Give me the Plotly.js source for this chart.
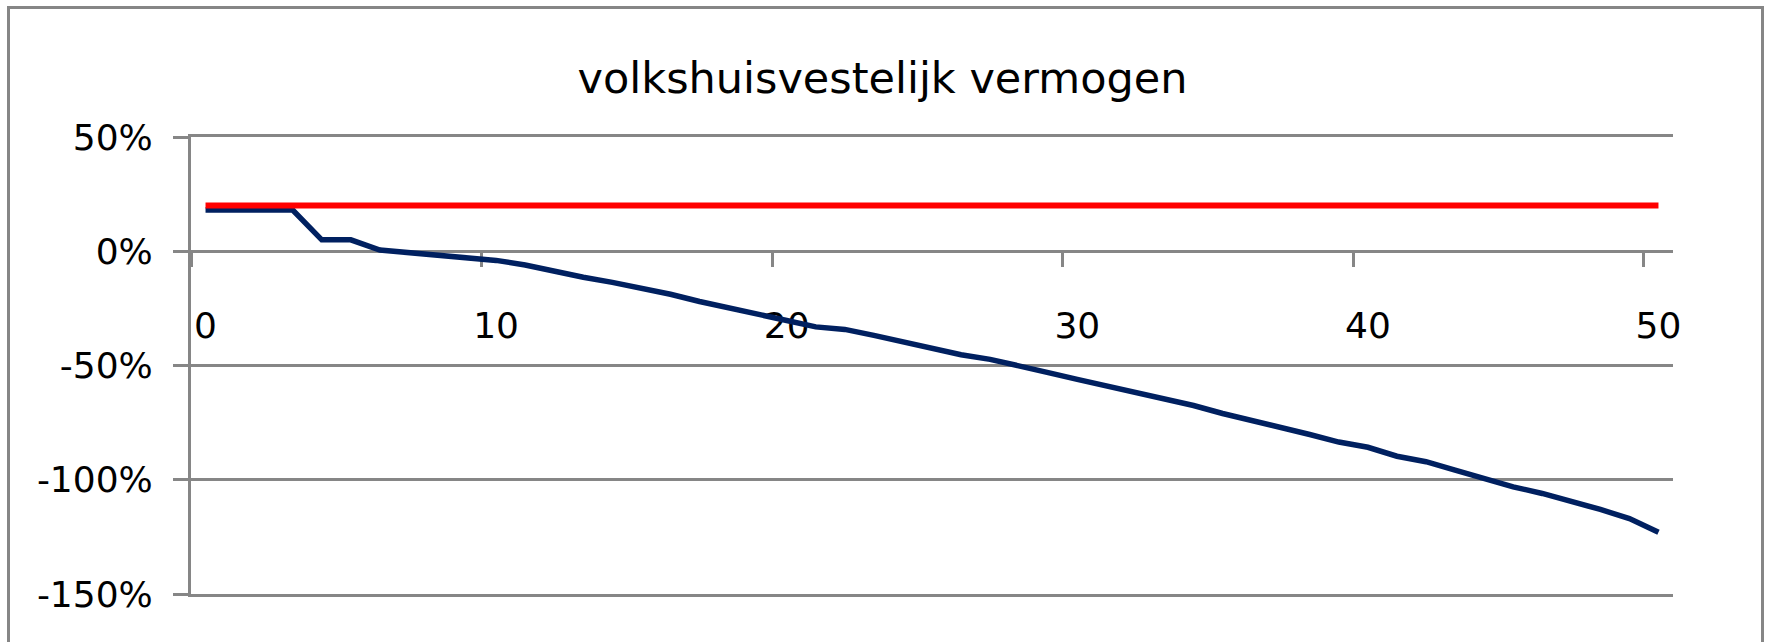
<!DOCTYPE html>
<html>
<head>
<meta charset="utf-8">
<script src="https://cdn.plot.ly/plotly-3.0.1.min.js"></script>
<style>
  html, body { margin: 0; padding: 0; background: #ffffff; overflow: hidden; }
  #wrap { position: relative; width: 1765px; height: 642px; }
  #chart { position: absolute; left: 0; top: 0; width: 1765px; height: 642px; }
  #frame { position: absolute; left: 7px; top: 6px; right: 1px; bottom: -20px;
           border: 3px solid #868686; pointer-events: none; }
</style>
</head>
<body>
<div id="wrap">
  <div id="chart"></div>
  <div id="frame"></div>
</div>
<script>
// ---- data ----
const chartTitle = 'volkshuisvestelijk vermogen';
const years = [0,1,2,3,4,5,6,7,8,9,10,11,12,13,14,15,16,17,18,19,20,
               21,22,23,24,25,26,27,28,29,30,31,32,33,34,35,36,37,38,39,40,
               41,42,43,44,45,46,47,48,49,50];
const vermogen = [0.18,0.18,0.18,0.18,0.05,0.05,0.005,-0.007,-0.018,-0.029,-0.040,
                  -0.060,-0.088,-0.114,-0.136,-0.160,-0.188,-0.220,-0.246,-0.274,-0.303,
                  -0.331,-0.342,-0.368,-0.398,-0.426,-0.453,-0.473,-0.500,-0.531,-0.561,
                  -0.589,-0.618,-0.645,-0.675,-0.710,-0.739,-0.771,-0.802,-0.835,-0.858,
                  -0.897,-0.921,-0.958,-0.996,-1.031,-1.060,-1.093,-1.130,-1.170,-1.230];
const norm = [0.2,0.2,0.2,0.2,0.2,0.2,0.2,0.2,0.2,0.2,0.2,
              0.2,0.2,0.2,0.2,0.2,0.2,0.2,0.2,0.2,0.2,
              0.2,0.2,0.2,0.2,0.2,0.2,0.2,0.2,0.2,0.2,
              0.2,0.2,0.2,0.2,0.2,0.2,0.2,0.2,0.2,0.2,
              0.2,0.2,0.2,0.2,0.2,0.2,0.2,0.2,0.2,0.2];
const yTickVals = [0.5, 0, -0.5, -1, -1.5];
const yTickText = ['50%', '0%', '-50%', '-100%', '-150%'];
const xLabelVals = [0, 10, 20, 30, 40, 50];
const xLabelText = ['0', '10', '20', '30', '40', '50'];

// ---- layout helpers ----
const yRange = [-1.5, 0.5];
const xRange = [years[0] - 0.5, years[years.length - 1] + 0.5];
const xAxisPos = (0 - yRange[0]) / (yRange[1] - yRange[0]);   // axis crosses at 0%
const xTickBoundaries = xLabelVals.map(v => v - 0.5);           // ticks between categories
const grey = '#868686';
const font = 'DejaVu Sans, sans-serif';

const traces = [
  { x: years, y: vermogen, type: 'scatter', mode: 'lines',
    line: { color: '#002060', width: 5.5 }, xaxis: 'x', yaxis: 'y',
    hoverinfo: 'skip', showlegend: false },
  { x: years, y: norm, type: 'scatter', mode: 'lines',
    line: { color: '#ff0000', width: 6 }, xaxis: 'x', yaxis: 'y',
    hoverinfo: 'skip', showlegend: false },
  // invisible helpers so the overlay axes are drawn
  { x: [xRange[0]], y: [yRange[0]], xaxis: 'x2', yaxis: 'y', type: 'scatter',
    mode: 'markers', marker: { opacity: 0 }, hoverinfo: 'skip', showlegend: false },
  { x: [xRange[0]], y: [yRange[0]], xaxis: 'x3', yaxis: 'y', type: 'scatter',
    mode: 'markers', marker: { opacity: 0 }, hoverinfo: 'skip', showlegend: false }
];

const layout = {
  width: 1765, height: 642,
  paper_bgcolor: '#ffffff', plot_bgcolor: '#ffffff',
  margin: { l: 191, r: 92, t: 137, b: 48, pad: 0 },
  showlegend: false,
  title: { text: chartTitle, x: 0.5, xanchor: 'center', y: 1 - 78 / 642, yanchor: 'middle',
           font: { family: font, size: 43, color: '#000000' } },
  xaxis: {
    type: 'linear', range: xRange, anchor: 'free', position: xAxisPos,
    showline: true, linecolor: grey, linewidth: 3,
    ticks: 'outside', ticklen: 14, tickwidth: 3, tickcolor: grey,
    tickmode: 'array', tickvals: xTickBoundaries, showticklabels: false,
    showgrid: false, zeroline: false, fixedrange: true, layer: 'below traces'
  },
  xaxis2: {
    type: 'linear', range: xRange, overlaying: 'x', anchor: 'free', position: xAxisPos,
    showline: false, ticks: '', tickmode: 'array', tickvals: xLabelVals, ticktext: xLabelText,
    tickfont: { family: font, size: 36, color: '#000000' }, ticklabelstandoff: 50,
    showgrid: false, zeroline: false, fixedrange: true, layer: 'below traces'
  },
  // top and bottom frame lines of the plot area (the 50% and -150% gridlines)
  xaxis3: {
    type: 'linear', range: xRange, overlaying: 'x', anchor: 'y',
    showline: true, mirror: true, linecolor: grey, linewidth: 3,
    ticks: '', showticklabels: false, showgrid: false, zeroline: false, fixedrange: true
  },
  yaxis: {
    range: yRange, showline: true, linecolor: grey, linewidth: 3,
    ticks: 'outside', ticklen: 15, tickwidth: 3, tickcolor: grey,
    tickmode: 'array', tickvals: yTickVals, ticktext: yTickText,
    tickfont: { family: font, size: 36, color: '#000000' }, ticklabelstandoff: 13,
    showgrid: true, gridcolor: grey, gridwidth: 3, zeroline: false, fixedrange: true
  }
};

Plotly.newPlot('chart', traces, layout, { staticPlot: true, displayModeBar: false });
</script>
</body>
</html>
